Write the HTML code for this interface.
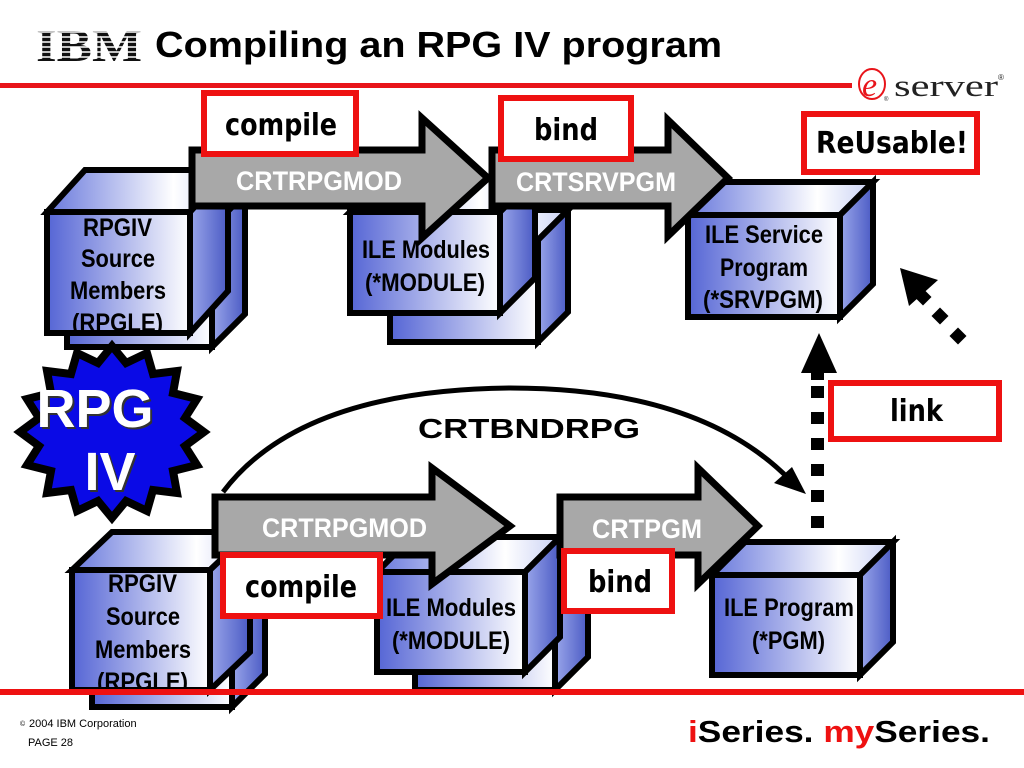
<!DOCTYPE html>
<html><head><meta charset="utf-8"><style>
html,body{margin:0;padding:0;background:#fff;width:1024px;height:768px;overflow:hidden}
svg{display:block}
.s{font-family:"Liberation Sans",sans-serif}
.c{font-family:"DejaVu Sans",sans-serif;font-weight:bold}
.r{font-family:"Liberation Serif",serif}
</style></head><body>
<svg width="1024" height="768" viewBox="0 0 1024 768" xmlns="http://www.w3.org/2000/svg">
<defs>
<linearGradient id="gf" x1="0" y1="0" x2="1" y2="0"><stop offset="0" stop-color="#5565d5"/><stop offset="1" stop-color="#ffffff"/></linearGradient>
<linearGradient id="gt" x1="0" y1="0" x2="1" y2="0"><stop offset="0" stop-color="#6878dc"/><stop offset="0.7" stop-color="#ffffff"/><stop offset="1" stop-color="#c8d0f4"/></linearGradient>
<linearGradient id="gr" x1="0" y1="0" x2="1" y2="0"><stop offset="0" stop-color="#9aa6ea"/><stop offset="1" stop-color="#4a5ac4"/></linearGradient>
</defs>

<!-- Header -->
<text class="r" x="36" y="61" font-weight="bold" font-size="46" fill="#111" textLength="106" lengthAdjust="spacingAndGlyphs">IBM</text>
<g stroke="#fff" stroke-width="1.6">
<line x1="34" y1="27" x2="146" y2="27"/><line x1="34" y1="32" x2="146" y2="32"/><line x1="34" y1="37" x2="146" y2="37"/><line x1="34" y1="42" x2="146" y2="42"/><line x1="34" y1="47" x2="146" y2="47"/><line x1="34" y1="52" x2="146" y2="52"/><line x1="34" y1="57" x2="146" y2="57"/>
</g>
<text class="s" x="155" y="57" font-weight="bold" font-size="36" fill="#000" textLength="567" lengthAdjust="spacingAndGlyphs">Compiling an RPG IV program</text>
<rect x="0" y="83" width="852" height="5" fill="#e8141a"/>
<ellipse cx="872" cy="84" rx="13" ry="15" fill="none" stroke="#e8141a" stroke-width="2"/>
<text class="r" x="862" y="96" font-style="italic" font-size="34" fill="#e8141a">e</text>
<text class="r" x="894" y="96" font-size="31" fill="#222" textLength="104" lengthAdjust="spacingAndGlyphs">server</text>
<text class="s" x="998" y="80" font-size="8" fill="#222">®</text>
<text class="s" x="884" y="101" font-size="6" fill="#222">®</text>

<!-- cubes -->
<g stroke="#000" stroke-width="6" stroke-linejoin="miter">
<polygon points="67,227 100,194 245,194 212,227" fill="url(#gt)"/>
<polygon points="212,227 245,194 245,314 212,347" fill="url(#gr)"/>
<rect x="67" y="227" width="145" height="120" fill="url(#gf)"/>
<polygon points="47,212 85,170 228,170 190,212" fill="url(#gt)"/>
<polygon points="190,212 228,170 228,291 190,333" fill="url(#gr)"/>
<rect x="47" y="212" width="143" height="121" fill="url(#gf)"/>
<polygon points="390,240 420,210 568,210 538,240" fill="url(#gt)"/>
<polygon points="538,240 568,210 568,312 538,342" fill="url(#gr)"/>
<rect x="390" y="240" width="148" height="102" fill="url(#gf)"/>
<polygon points="350,212 385,177 535,177 500,212" fill="url(#gt)"/>
<polygon points="500,212 535,177 535,278 500,313" fill="url(#gr)"/>
<rect x="350" y="212" width="150" height="101" fill="url(#gf)"/>
<polygon points="688,215 721,182 873,182 840,215" fill="url(#gt)"/>
<polygon points="840,215 873,182 873,284 840,317" fill="url(#gr)"/>
<rect x="688" y="215" width="152" height="102" fill="url(#gf)"/>
<polygon points="92,590 125,557 265,557 232,590" fill="url(#gt)"/>
<polygon points="232,590 265,557 265,674 232,707" fill="url(#gr)"/>
<rect x="92" y="590" width="140" height="117" fill="url(#gf)"/>
<polygon points="72,570 112,532 250,532 210,570" fill="url(#gt)"/>
<polygon points="210,570 250,532 250,652 210,690" fill="url(#gr)"/>
<rect x="72" y="570" width="138" height="120" fill="url(#gf)"/>
<polygon points="415,590 448,557 588,557 555,590" fill="url(#gt)"/>
<polygon points="555,590 588,557 588,657 555,690" fill="url(#gr)"/>
<rect x="415" y="590" width="140" height="100" fill="url(#gf)"/>
<polygon points="377,572 412,537 560,537 525,572" fill="url(#gt)"/>
<polygon points="525,572 560,537 560,637 525,672" fill="url(#gr)"/>
<rect x="377" y="572" width="148" height="100" fill="url(#gf)"/>
<polygon points="712,575 745,542 893,542 860,575" fill="url(#gt)"/>
<polygon points="860,575 893,542 893,642 860,675" fill="url(#gr)"/>
<rect x="712" y="575" width="148" height="100" fill="url(#gf)"/>
</g>

<!-- cube labels -->
<g font-weight="bold" font-size="25" fill="#000">
<text class="s" x="83" y="236" textLength="69" lengthAdjust="spacingAndGlyphs">RPGIV</text>
<text class="s" x="81" y="267" textLength="74" lengthAdjust="spacingAndGlyphs">Source</text>
<text class="s" x="70" y="299" textLength="96" lengthAdjust="spacingAndGlyphs">Members</text>
<text class="s" x="72" y="331" textLength="91" lengthAdjust="spacingAndGlyphs">(RPGLE)</text>
<text class="s" x="362" y="258" textLength="128" lengthAdjust="spacingAndGlyphs">ILE Modules</text>
<text class="s" x="365" y="291" textLength="120" lengthAdjust="spacingAndGlyphs">(*MODULE)</text>
<text class="s" x="705" y="243" textLength="118" lengthAdjust="spacingAndGlyphs">ILE Service</text>
<text class="s" x="720" y="276" textLength="88" lengthAdjust="spacingAndGlyphs">Program</text>
<text class="s" x="703" y="308" textLength="120" lengthAdjust="spacingAndGlyphs">(*SRVPGM)</text>
<text class="s" x="108" y="592" textLength="69" lengthAdjust="spacingAndGlyphs">RPGIV</text>
<text class="s" x="106" y="625" textLength="74" lengthAdjust="spacingAndGlyphs">Source</text>
<text class="s" x="95" y="658" textLength="96" lengthAdjust="spacingAndGlyphs">Members</text>
<text class="s" x="97" y="690" textLength="91" lengthAdjust="spacingAndGlyphs">(RPGLE)</text>
<text class="s" x="386" y="616" textLength="130" lengthAdjust="spacingAndGlyphs">ILE Modules</text>
<text class="s" x="392" y="649" textLength="118" lengthAdjust="spacingAndGlyphs">(*MODULE)</text>
<text class="s" x="724" y="616" textLength="130" lengthAdjust="spacingAndGlyphs">ILE Program</text>
<text class="s" x="752" y="649" textLength="73" lengthAdjust="spacingAndGlyphs">(*PGM)</text>
</g>

<!-- block arrows -->
<g fill="#a8a8a8" stroke="#000" stroke-width="7" stroke-linejoin="miter">
<polygon points="192,150 422,150 422,118 488,178 422,238 422,206 192,206"/>
<polygon points="492,150 668,150 668,120 728,178 668,236 668,206 492,206"/>
<polygon points="215,497 432,497 432,468 510,526 432,584 432,555 215,555"/>
<polygon points="560,497 698,497 698,468 758,526 698,584 698,555 560,555"/>
</g>
<g font-weight="bold" font-size="27" fill="#fff">
<text class="s" x="236" y="190" textLength="166" lengthAdjust="spacingAndGlyphs">CRTRPGMOD</text>
<text class="s" x="516" y="191" textLength="160" lengthAdjust="spacingAndGlyphs">CRTSRVPGM</text>
<text class="s" x="262" y="537" textLength="165" lengthAdjust="spacingAndGlyphs">CRTRPGMOD</text>
<text class="s" x="592" y="538" textLength="110" lengthAdjust="spacingAndGlyphs">CRTPGM</text>
</g>

<!-- red label boxes -->
<g fill="#fff" stroke="#ee1111" stroke-width="6">
<rect x="204" y="93" width="152" height="61"/>
<rect x="501" y="98" width="130" height="61"/>
<rect x="804" y="114" width="173" height="58"/>
<rect x="831" y="383" width="168" height="56"/>
<rect x="223" y="555" width="157" height="61"/>
<rect x="564" y="551" width="108" height="60"/>
</g>
<g font-size="30" fill="#000">
<text class="c" x="225" y="135" textLength="112" lengthAdjust="spacingAndGlyphs">compile</text>
<text class="c" x="534" y="140" textLength="64" lengthAdjust="spacingAndGlyphs">bind</text>
<text class="c" x="816" y="153" textLength="152" lengthAdjust="spacingAndGlyphs">ReUsable!</text>
<text class="c" x="890" y="421" textLength="53" lengthAdjust="spacingAndGlyphs">link</text>
<text class="c" x="245" y="597" textLength="112" lengthAdjust="spacingAndGlyphs">compile</text>
<text class="c" x="588" y="592" textLength="64" lengthAdjust="spacingAndGlyphs">bind</text>
</g>

<!-- CRTBNDRPG curve -->
<path d="M223,492 Q300,390 510,388 Q700,388 790,480" fill="none" stroke="#000" stroke-width="5"/>
<polygon points="806,494 774,483 792,467" fill="#000"/>
<text class="s" x="418" y="438" font-weight="bold" font-size="28" fill="#000" textLength="222" lengthAdjust="spacingAndGlyphs">CRTBNDRPG</text>

<!-- dotted link arrows -->
<g fill="#000">
<rect x="811" y="516" width="13" height="12"/><rect x="811" y="490" width="13" height="12"/><rect x="811" y="464" width="13" height="12"/><rect x="811" y="438" width="13" height="12"/><rect x="811" y="412" width="13" height="12"/><rect x="811" y="386" width="13" height="12"/>
<polygon points="819,333 801,373 837,373"/>
<rect x="811" y="370" width="13" height="10"/>
<g transform="rotate(45 958 336)"><rect x="952" y="330" width="12" height="12"/></g>
<g transform="rotate(45 940 316)"><rect x="934" y="310" width="12" height="12"/></g>
<g transform="rotate(45 923 297)"><rect x="917" y="291" width="12" height="12"/></g>
<polygon points="900,268 909,306 938,280"/>
</g>

<!-- Starburst -->
<polygon points="204,432 185,446 197,465 173,471 177,493 153,490 147,511 126,501 112,518 98,501 77,511 71,490 47,493 51,471 27,465 39,446 20,432 39,418 27,399 51,393 47,371 71,374 77,353 98,363 112,346 126,363 147,353 153,374 177,371 173,393 197,399 185,418" fill="#0a0ae6" stroke="#000" stroke-width="8" stroke-linejoin="miter"/>
<g font-weight="bold" font-size="54" text-anchor="middle">
<text class="s" x="97" y="429" fill="#333">RPG</text><text class="s" x="95" y="427" fill="#fff">RPG</text>
<text class="s" x="112" y="492" fill="#333">IV</text><text class="s" x="110" y="490" fill="#fff">IV</text>
</g>

<!-- Footer -->
<rect x="0" y="689" width="1024" height="6" fill="#ee1111"/>
<text class="s" x="20" y="726" font-size="7" fill="#000">©</text>
<text class="s" x="29" y="727" font-size="11" fill="#000">2004 IBM Corporation</text>
<text class="s" x="28" y="746" font-size="11" fill="#000">PAGE 28</text>
<text class="s" x="688" y="742" font-weight="bold" font-size="31" fill="#000" textLength="302" lengthAdjust="spacingAndGlyphs"><tspan fill="#ee1111">i</tspan>Series. <tspan fill="#ee1111">my</tspan>Series.</text>
</svg>
</body></html>
